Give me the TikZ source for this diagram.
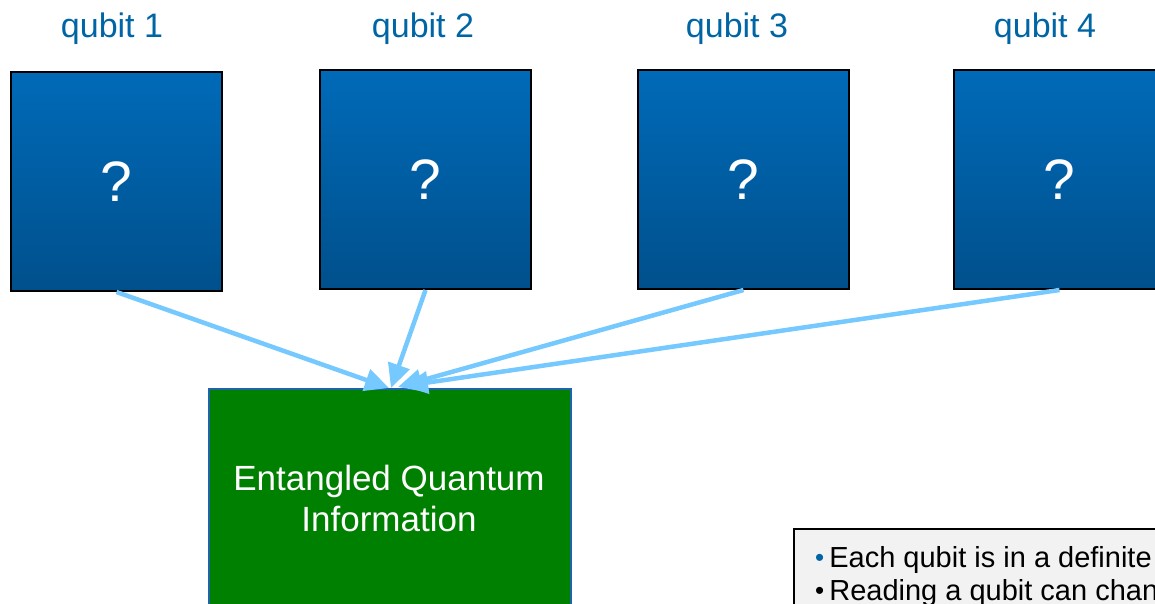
\documentclass[tikz,border=0pt]{standalone}
\usepackage{fontspec}
\setmainfont{Liberation Sans}
\usetikzlibrary{arrows.meta,calc}
\definecolor{qtop}{RGB}{0,106,184}
\definecolor{qbot}{RGB}{0,80,140}
\definecolor{qlabel}{RGB}{0,101,165}
\definecolor{arrowblue}{RGB}{117,201,255}
\definecolor{entgreen}{RGB}{0,128,0}
\definecolor{entborder}{RGB}{30,100,170}
\definecolor{notegray}{RGB}{242,242,242}
\tikzset{
  qubitbox/.style={draw=black,line width=2pt,top color=qtop,bottom color=qbot,
    minimum width=211pt,minimum height=219pt,inner sep=0pt,text=white,
    font=\fontsize{57}{60}\selectfont},
  qlab/.style={text=qlabel,font=\fontsize{34}{40}\selectfont,inner sep=0pt,anchor=base},
  feed/.style={draw=arrowblue,line width=4.5pt,-{Triangle[length=24pt,width=22pt]}},
  entbox/.style={draw=entborder,line width=1.5pt,fill=entgreen,anchor=north west,
    minimum width=362pt,minimum height=260pt,inner sep=0pt},
  enttext/.style={text=white,font=\fontsize{35}{41}\selectfont,inner sep=0pt,anchor=base},
  notebox/.style={draw=black,line width=1.5pt,fill=notegray,anchor=north west,
    minimum width=420pt,minimum height=120pt,inner sep=0pt},
  notetext/.style={font=\fontsize{29}{33}\selectfont,inner sep=0pt,anchor=base west}
}
\begin{document}
\begin{tikzpicture}[x=1pt,y=-1pt]
\useasboundingbox (0,0) rectangle (1155,603);
\clip (0,0) rectangle (1155,603);
% qubit labels
\node[qlab] (l1) at (112,37) {qubit 1};
\node[qlab] (l2) at (423,37) {qubit 2};
\node[qlab] (l3) at (737,37) {qubit 3};
\node[qlab] (l4) at (1045,37) {qubit 4};
% qubit boxes
\node[qubitbox] (q1) at (116.5,181.5) {?};
\node[qubitbox] (q2) at (425.5,179.5) {?};
\node[qubitbox] (q3) at (743.5,179.5) {?};
\node[qubitbox] (q4) at (1059.5,179.5) {?};
% entangled box
\node[entbox] (ent) at (208,388) {};
\node[enttext] (e1) at (389,490) {Entangled Quantum};
\node[enttext] (e2) at (389,531) {Information};
% arrow tips
\coordinate (t1) at ($(ent.north west)+(181,0)$);
\coordinate (t2) at ($(ent.north west)+(183,0)$);
\coordinate (t3) at ($(ent.north west)+(190,-1)$);
\coordinate (t4) at ($(ent.north west)+(196,-2)$);
\draw[feed] (q1.south) -- (t1);
\draw[feed] (q2.south) -- (t2);
\draw[feed] (q3.south) -- (t3);
\draw[feed] (q4.south) -- (t4);
% note box
\node[notebox] (note) at (793,528) {};
\node[notetext] (n1) at (815,567) {\textcolor{qlabel}{\fontsize{26}{26}\selectfont\raisebox{1pt}{•}}\hspace{5pt}Each qubit is in a definite};
\node[notetext] (n2) at (815,600) {{\fontsize{26}{26}\selectfont\raisebox{1pt}{•}}\hspace{5pt}Reading a qubit can change};
\end{tikzpicture}
\end{document}
